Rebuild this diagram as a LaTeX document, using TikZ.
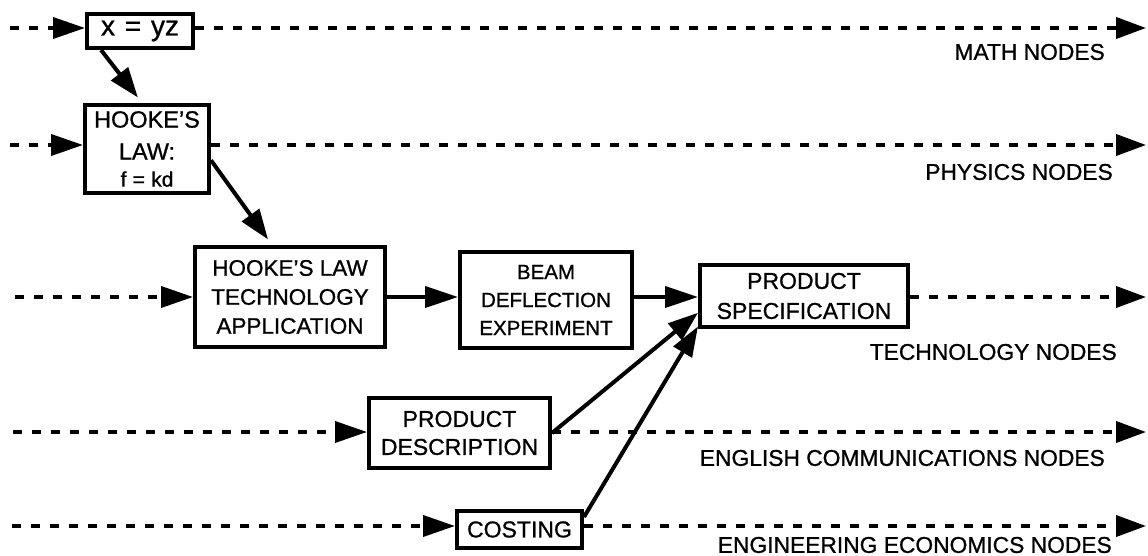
\documentclass[tikz,border=0pt]{standalone}
\usepackage{fontspec}
\setmainfont{Liberation Sans}[BoldFont=Liberation Sans, BoldFeatures={FakeBold=0.9}]
\usetikzlibrary{arrows.meta}
\begin{document}
\begin{tikzpicture}[x=1pt,y=-1pt,
  box/.style={draw, line width=4pt, inner sep=0pt, align=center},
  dl/.style={line width=3.8pt, dash pattern=on 9pt off 10pt, -{Triangle[length=32pt,width=21pt]}},
  dlr/.style={line width=3.8pt, dash pattern=on 9pt off 10pt, -{Triangle[length=30pt,width=21pt]}},
  sl/.style={line width=4pt, -{Triangle[length=33pt,width=21pt]}},
  dg/.style={line width=4pt, -{Triangle[length=30pt,width=21pt]}},
  lab/.style={font=\bfseries\fontsize{22.8}{28}\selectfont, inner sep=0pt, anchor=east}]
\useasboundingbox (0,0) rectangle (1148,556);

% nodes
\node[box, minimum width=106pt, minimum height=34pt, font=\bfseries\fontsize{28}{32}\selectfont] (xyz) at (140,31) {x\hspace{0.35em}=\hspace{0.35em}yz};
\node[box, minimum width=124pt, minimum height=88pt, font=\bfseries\fontsize{23.5}{32}\selectfont] (hooke) at (147,149)
  {HOOKE'S\\LAW:\\[-5pt]{\fontsize{21}{26}\selectfont f\hspace{0.3em}=\hspace{0.3em}kd}};
\node[box, minimum width=190pt, minimum height=100pt, font=\bfseries\fontsize{22.5}{29}\selectfont] (htech) at (290,297)
  {HOOKE'S LAW\\TECHNOLOGY\\APPLICATION};
\node[box, minimum width=172pt, minimum height=96pt, font=\bfseries\fontsize{20.5}{28}\selectfont] (beam) at (546,300)
  {BEAM\\DEFLECTION\\EXPERIMENT};
\node[box, minimum width=208pt, minimum height=62pt, font=\bfseries\fontsize{23}{30}\selectfont] (spec) at (804,296)
  {PRODUCT\\SPECIFICATION};
\node[box, minimum width=181pt, minimum height=70pt, font=\bfseries\fontsize{23}{28}\selectfont] (pd) at (459.5,433)
  {PRODUCT\\DESCRIPTION};
\node[box, minimum width=125pt, minimum height=37pt, font=\bfseries\fontsize{23}{28}\selectfont] (cost) at (519.5,529.5)
  {COSTING};

% labels
\node[lab] (lm) at (1105,52) {MATH NODES};
\node[lab] (lp) at (1113,172) {PHYSICS NODES};
\node[lab] (lt) at (1117,352) {TECHNOLOGY NODES};
\node[lab] (le) at (1105,458) {ENGLISH COMMUNICATIONS NODES};
\node[lab] (lc) at (1112,545) {ENGINEERING ECONOMICS NODES};

% line end coordinates
\coordinate (mL) at (10,28);  \coordinate (mR) at (1146,28);
\coordinate (pL) at (10,145); \coordinate (pR) at (1146,145);
\coordinate (tL) at (15,297); \coordinate (tR) at (1146,297);
\coordinate (eL) at (13,432); \coordinate (eR) at (1146,432);
\coordinate (cL) at (12,526); \coordinate (cR) at (1146,526);

% dashed discipline lines
\draw[dl] (mL) -- (mL -| xyz.west);
\draw[dlr] (mR -| xyz.east) -- (mR);
\draw[dl] (pL) -- (pL -| hooke.west);
\draw[dlr] (pR -| hooke.east) -- (pR);
\draw[dl] (tL) -- (tL -| htech.west);
\draw[dlr] (tR -| spec.east) -- (tR);
\draw[dl] (eL) -- (eL -| pd.west);
\draw[dlr] (eR -| pd.east) -- (eR);
\draw[dl] (cL) -- (cL -| cost.west);
\draw[dlr] (cR -| cost.east) -- (cR);

% solid connectors
\draw[dg, shorten >=7pt] (xyz.206) -- (hooke.96);
\draw[dg, shorten >=7pt] (hooke.-10) -- (htech.109);
\draw[sl] (tL -| htech.east) -- (tL -| beam.west);
\draw[sl] (tL -| beam.east) -- (tL -| spec.west);
\draw[dg] (pd.east) -- (spec.189);
\draw[dg] (cost.11) -- (spec.196);
\end{tikzpicture}
\end{document}
